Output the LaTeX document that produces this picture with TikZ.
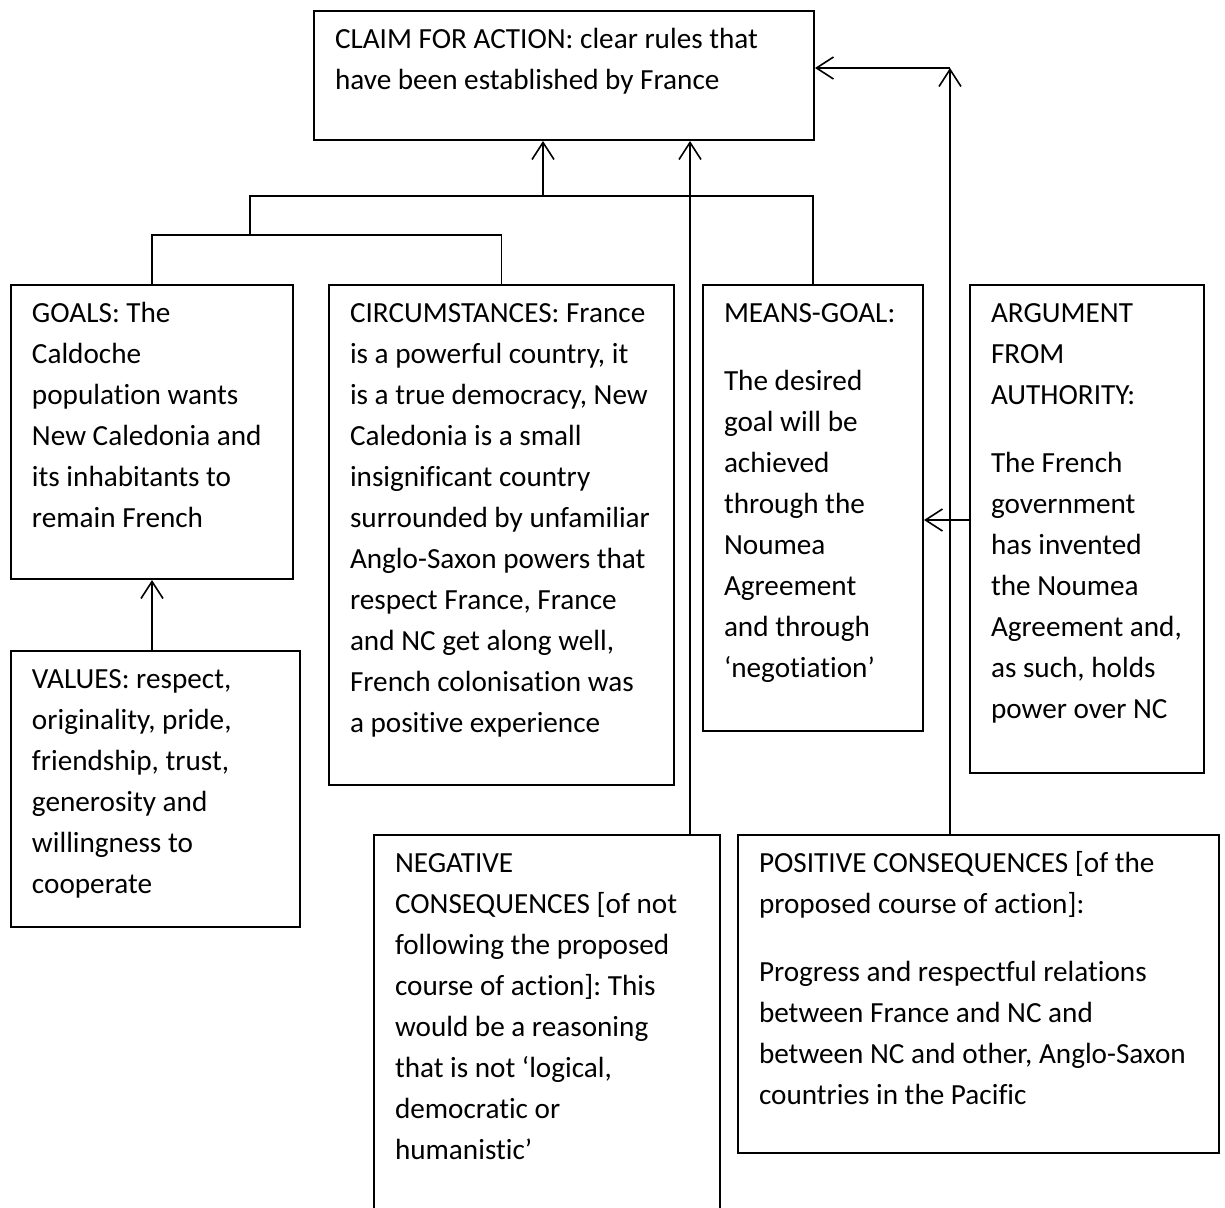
\documentclass[tikz,border=0pt]{standalone}
\usepackage{fontspec}
\setmainfont{Carlito}[Ligatures=NoCommon]
\usetikzlibrary{arrows.meta}
\frenchspacing

% top-aligned box text: width, height, lines
\newcommand{\boxtext}[3]{\parbox[t][#2][t]{#1}{\raggedright\strut #3}}

\begin{document}
\begin{tikzpicture}[x=0.5pt, y=-0.5pt,
    argbox/.style={draw, line width=1pt, anchor=north west, inner xsep=10.5pt, inner ysep=4.6pt,
      font=\fontsize{14.6pt}{20.5pt}\selectfont},
    link/.style={line width=0.8pt},
    arrow/.style={link, -{Straight Barb[length=8.5pt, width=11pt]}}]
    \path[use as bounding box, clip] (0,0) rectangle (1225,1207);

    %Boxes
    \node[argbox] (claim) at (313,10) {\boxtext{229pt}{55.3pt}{CLAIM FOR ACTION: clear rules that\\
      have been established by France}};
    \node[argbox] (goals) at (10,284) {\boxtext{120pt}{137.8pt}{GOALS: The\\ Caldoche\\ population wants\\
      New Caledonia and\\ its inhabitants to\\ remain French}};
    \node[argbox] (values) at (10,650) {\boxtext{123.5pt}{128.8pt}{VALUES: respect,\\ originality, pride,\\
      friendship, trust,\\ generosity and\\ willingness to\\ cooperate}};
    \node[argbox] (circ) at (328,284) {\boxtext{151.5pt}{240.8pt}{CIRCUMSTANCES: France\\
      is a powerful country, it\\ is a true democracy, New\\ Caledonia is a small\\
      insignificant country\\ surrounded by unfamiliar\\ Anglo-Saxon powers that\\
      respect France, France\\ and NC get along well,\\ French colonisation was\\
      a positive experience}};
    \node[argbox] (means) at (702,284) {\boxtext{89pt}{213.8pt}{MEANS-GOAL:\\[13.5pt]
      The desired\\ goal will be\\ achieved\\ through the\\ Noumea\\ Agreement\\
      and through\\ ‘negotiation’}};
    \node[argbox] (arg) at (969,284) {\boxtext{96pt}{234.8pt}{ARGUMENT\\ FROM\\ AUTHORITY:\\[13.5pt]
      The French\\ government\\ has invented\\ the Noumea\\ Agreement and,\\
      as such, holds\\ power over NC}};
    \node[argbox] (neg) at (373,834) {\boxtext{152pt}{215.8pt}{NEGATIVE\\ CONSEQUENCES [of not\\
      following the proposed\\ course of action]: This\\ would be a reasoning\\
      that is not ‘logical,\\ democratic or\\ humanistic’}};
    \node[argbox] (pos) at (737,834) {\boxtext{219.5pt}{149.8pt}{POSITIVE CONSEQUENCES [of the\\
      proposed course of action]:\\[13.5pt]
      Progress and respectful relations\\ between France and NC and\\
      between NC and other, Anglo-Saxon\\ countries in the Pacific}};

    %Lines
    \coordinate (fork) at (543,196);
    \coordinate (subfork) at (250,235);
    \coordinate (bend) at (950,68);
    \draw[arrow] (fork) -- (fork |- claim.south);
    \draw[link] (means.north) |- (fork) -| (subfork);
    \draw[link] (goals.north) |- (subfork) -| (circ.north);
    \draw[arrow] (values.north -| goals.south) -- (goals.south);
    \draw[arrow] ([xshift=-15.5pt]neg.north east) -- ([xshift=-15.5pt]neg.north east |- claim.south);
    \draw[arrow] ([xshift=106.5pt]pos.north west) -- (bend);
    \draw[arrow] (bend) -- (bend -| claim.east);
    \draw[arrow] ([yshift=4.5pt]arg.west) -- ([yshift=4.5pt]arg.west -| means.east);
\end{tikzpicture}
\end{document}
